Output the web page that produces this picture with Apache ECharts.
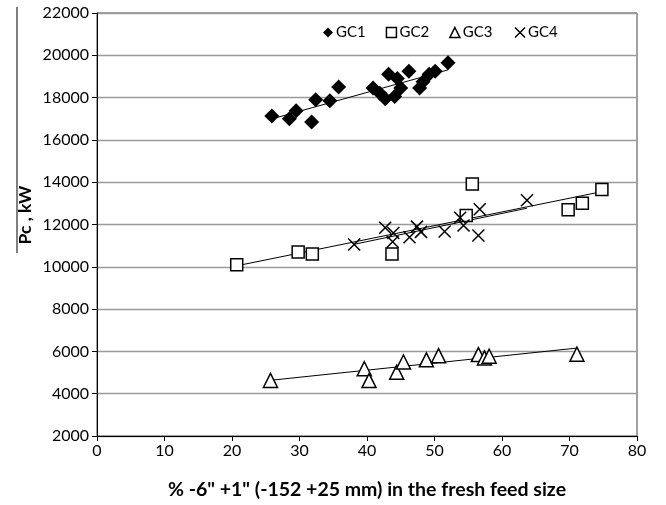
<!DOCTYPE html>
<html>
<head>
<meta charset="utf-8">
<script src="https://cdn.jsdelivr.net/npm/echarts@6/dist/echarts.min.js"></script>
<style>html,body{margin:0;padding:0;background:#fff}#c{width:666px;height:505px}</style>
</head>
<body>
<div id="c"></div>
<script>
const seriesNames = ['GC1', 'GC2', 'GC3', 'GC4'];
const gc1 = [[25.9,17130],[28.5,17000],[29.5,17380],[31.8,16850],[32.4,17900],[34.5,17850],[35.8,18500],
  [40.9,18450],[41.9,18200],[42.7,17950],[43.2,19100],[44.1,18050],[44.5,18900],[45.0,18450],
  [46.2,19250],[47.8,18450],[48.3,18750],[49.2,19100],[50.1,19250],[52.0,19650]];
const gc2 = [[20.7,10100],[29.8,10700],[31.9,10600],[43.7,10600],[54.7,12430],[55.6,13920],
  [69.8,12700],[71.9,13000],[74.8,13650]];
const gc3 = [[25.7,4630],[39.6,5180],[40.3,4620],[44.4,5020],[45.4,5500],[48.8,5600],[50.6,5800],
  [56.5,5850],[57.4,5690],[58.1,5770],[71.1,5870]];
const gc4 = [[38.1,11050],[42.7,11850],[43.9,11600],[43.8,11180],[46.3,11400],[47.4,11900],[48.0,11650],
  [51.5,11670],[53.8,12320],[54.3,11950],[56.5,11480],[56.7,12720],[63.7,13150]];
const xTicks = [0,10,20,30,40,50,60,70,80];
const yTicks = [2000,4000,6000,8000,10000,12000,14000,16000,18000,20000,22000];

function trend(d){
  const n=d.length; let sx=0,sy=0,sxx=0,sxy=0;
  d.forEach(p=>{sx+=p[0];sy+=p[1];sxx+=p[0]*p[0];sxy+=p[0]*p[1];});
  const b=(n*sxy-sx*sy)/(n*sxx-sx*sx), a=(sy-b*sx)/n;
  const xs=d.map(p=>p[0]); const x0=Math.min(...xs), x1=Math.max(...xs);
  return [[x0,a+b*x0],[x1,a+b*x1]];
}

const font = 'Lato, "Open Sans", sans-serif';
const crossPath = 'path://M0,0L10,10M10,0L0,10';
const chart = echarts.init(document.getElementById('c'), null, {renderer:'canvas'});

const markerDefs = [
  {name:'GC1', data:gc1, symbol:'diamond', size:15, item:{color:'#000', opacity:1}},
  {name:'GC2', data:gc2, symbol:'rect', size:12, item:{color:'#fff', borderColor:'#000', borderWidth:1.5, opacity:1}},
  {name:'GC3', data:gc3, symbol:'triangle', size:14, item:{color:'#fff', borderColor:'#000', borderWidth:1.5, opacity:1}},
  {name:'GC4', data:gc4, symbol:crossPath, size:12, item:{color:'none', borderColor:'#000', borderWidth:1.5, opacity:1}}
];

const series = [];
markerDefs.forEach(m=>{
  series.push({type:'line', data:trend(m.data), symbol:'none', silent:true, z:1,
    lineStyle:{color:'#000', width:1}, legendHoverLink:false});
});
markerDefs.forEach(m=>{
  series.push({type:'scatter', name:m.name, data:m.data, symbol:m.symbol, symbolSize:m.size,
    itemStyle:m.item, z:3});
});

chart.setOption({
  animation:false,
  backgroundColor:'#fff',
  grid:{left:97, right:29, top:13, bottom:68, show:true, borderColor:'#444', borderWidth:1},
  legend:{
    data: seriesNames.map((n,i)=>({name:n, icon: markerDefs[i].symbol, itemStyle:markerDefs[i].item})),
    top:20, left:318, itemWidth:10, itemHeight:10, itemGap:20,
    textStyle:{fontFamily:font, fontSize:15, color:'#000', padding:[0,0,0,-2]}
  },
  xAxis:{type:'value', min:0, max:80, interval:10,
    axisLine:{show:true, onZero:false, lineStyle:{color:'#000', width:1}},
    axisTick:{show:true, inside:false, length:5, lineStyle:{color:'#000'}},
    axisLabel:{fontFamily:font, fontSize:16, color:'#000', margin:7,
      formatter:v=>xTicks.includes(v)?String(v):''},
    splitLine:{show:false},
    name:'% -6" +1" (-152 +25 mm) in the fresh feed size', nameLocation:'middle', nameGap:44,
    nameTextStyle:{fontFamily:font, fontSize:19.5, fontWeight:'bold', color:'#000'}
  },
  yAxis:{type:'value', min:2000, max:22000, interval:2000,
    axisLine:{show:true, onZero:false, lineStyle:{color:'#000', width:1}},
    axisTick:{show:true, inside:false, length:5, lineStyle:{color:'#000'}},
    axisLabel:{fontFamily:font, fontSize:16, color:'#000', margin:8,
      formatter:v=>yTicks.includes(v)?String(v):''},
    splitLine:{show:true, lineStyle:{color:'#9a9a9a', width:1.3}}
  },
  graphic:[
    {type:'text', x:25, y:215, rotation:Math.PI/2,
      style:{text:'Pc , kW', fontFamily:font, fontSize:17.5, fontWeight:'bold', fill:'#000',
        textAlign:'center', textVerticalAlign:'middle'}},
    {type:'line', shape:{x1:17, y1:7, x2:17, y2:253}, style:{stroke:'#000', lineWidth:1}}
  ],
  series: series
});
</script>
</body>
</html>
